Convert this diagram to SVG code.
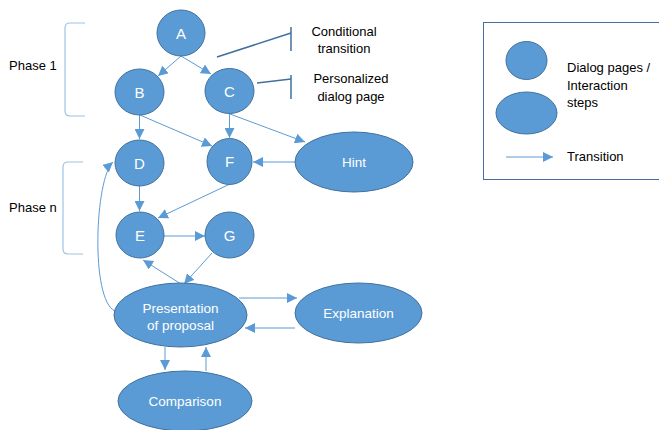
<svg xmlns="http://www.w3.org/2000/svg" width="659" height="430" viewBox="0 0 659 430">
<style>
.node{fill:#5B9BD5;stroke:#41719C;stroke-width:1}
.lbl{font-family:"Liberation Sans",Arial,sans-serif;fill:#ffffff;text-anchor:middle}
.big{font-size:15px}
.sm{font-size:13.5px}
.txt{font-family:"Liberation Sans",Arial,sans-serif;font-size:13px;fill:#000000}
.edge{fill:none;stroke:#5B9BD5;stroke-width:1;marker-end:url(#ah)}
.brk{fill:none;stroke:#9DC3E6;stroke-width:1.2}
.call{fill:none;stroke:#41719C;stroke-width:1.5}
</style>
<defs>
<marker id="ah" markerUnits="userSpaceOnUse" markerWidth="12" markerHeight="10" refX="10" refY="5" orient="auto">
<path d="M0,0 L10,5 L0,10 Z" fill="#5B9BD5"/>
</marker>
</defs>
<rect width="659" height="430" fill="#ffffff"/>

<g id="brackets">
<path class="brk" d="M85,23 L70,23 Q65,23 65,28 L65,111 Q65,116 70,116 L85,116"/>
<path class="brk" d="M83,162 L68,162 Q63,162 63,167 L63,249 Q63,254 68,254 L83,254"/>
<text class="txt" x="9" y="70">Phase 1</text>
<text class="txt" x="9" y="212">Phase n</text>
</g>

<g id="connectors">
<line class="edge" x1="181" y1="56" x2="158" y2="76"/>
<line class="edge" x1="181" y1="56" x2="211" y2="74"/>
<line class="edge" x1="139.5" y1="115" x2="139.5" y2="139"/>
<line class="edge" x1="140" y1="115" x2="212" y2="146"/>
<line class="edge" x1="229.5" y1="113" x2="229.5" y2="138"/>
<line class="edge" x1="230" y1="114" x2="305" y2="142"/>
<line class="edge" x1="295" y1="162" x2="253" y2="162"/>
<line class="edge" x1="139.5" y1="186" x2="139.5" y2="211"/>
<line class="edge" x1="230" y1="184" x2="158" y2="218"/>
<line class="edge" x1="164" y1="236" x2="205" y2="236"/>
<line class="edge" x1="212" y1="253" x2="184" y2="284"/>
<line class="edge" x1="181" y1="284" x2="143" y2="260"/>
<path class="edge" d="M115,311 C90,300 95,178 113,162"/>
<line class="edge" x1="239" y1="298" x2="297" y2="298"/>
<line class="edge" x1="295" y1="328" x2="245" y2="328"/>
<line class="edge" x1="165" y1="347" x2="165" y2="370"/>
<line class="edge" x1="206" y1="371" x2="206" y2="347"/>
</g>

<g id="callout-conditional">
<line class="call" x1="217" y1="57" x2="291" y2="33"/>
<line class="call" x1="291" y1="27" x2="291" y2="51"/>
<text class="txt" x="344" y="36" text-anchor="middle">Conditional</text>
<text class="txt" x="344" y="53" text-anchor="middle">transition</text>
</g>
<g id="callout-personalized">
<line class="call" x1="257" y1="83" x2="291" y2="79"/>
<line class="call" x1="291" y1="75" x2="291" y2="99"/>
<text class="txt" x="351" y="83" text-anchor="middle">Personalized</text>
<text class="txt" x="351" y="101" text-anchor="middle">dialog page</text>
</g>

<g id="node-A"><ellipse class="node" cx="181" cy="33" rx="24" ry="23"/><text class="lbl big" x="181" y="38.5">A</text></g>
<g id="node-B"><ellipse class="node" cx="139.5" cy="92" rx="24.5" ry="23"/><text class="lbl big" x="139.5" y="97.5">B</text></g>
<g id="node-C"><ellipse class="node" cx="229.5" cy="91" rx="24.5" ry="22.5"/><text class="lbl big" x="229.5" y="96.5">C</text></g>
<g id="node-D"><ellipse class="node" cx="139.5" cy="163" rx="24.5" ry="23"/><text class="lbl big" x="139.5" y="168.5">D</text></g>
<g id="node-F"><ellipse class="node" cx="229.5" cy="161.5" rx="22.5" ry="23"/><text class="lbl big" x="229.5" y="167">F</text></g>
<g id="node-Hint"><ellipse class="node" cx="354" cy="162" rx="59" ry="30"/><text class="lbl sm" x="354" y="167">Hint</text></g>
<g id="node-E"><ellipse class="node" cx="140" cy="235" rx="24" ry="23"/><text class="lbl big" x="140" y="240.5">E</text></g>
<g id="node-G"><ellipse class="node" cx="229.5" cy="235" rx="24.5" ry="23"/><text class="lbl big" x="229.5" y="240.5">G</text></g>
<g id="node-Presentation"><ellipse class="node" cx="180.5" cy="315" rx="66.5" ry="32"/><text class="lbl sm" x="180.5" y="312.5">Presentation</text><text class="lbl sm" x="180.5" y="330">of proposal</text></g>
<g id="node-Explanation"><ellipse class="node" cx="358.5" cy="313" rx="63.5" ry="30"/><text class="lbl sm" x="358.5" y="318">Explanation</text></g>
<g id="node-Comparison"><ellipse class="node" cx="185" cy="401" rx="67" ry="30"/><text class="lbl sm" x="185" y="406">Comparison</text></g>

<g id="legend">
<rect x="483.5" y="22.5" width="200" height="157" fill="none" stroke="#41719C" stroke-width="1"/>
<ellipse class="node" cx="526.5" cy="60.5" rx="20.5" ry="19"/>
<ellipse class="node" cx="526.5" cy="113" rx="30.5" ry="21"/>
<text class="txt" x="567" y="72">Dialog pages /</text>
<text class="txt" x="567" y="90">Interaction</text>
<text class="txt" x="567" y="107">steps</text>
<line class="edge" x1="506" y1="157" x2="553" y2="157"/>
<text class="txt" x="567" y="161">Transition</text>
</g>
</svg>
